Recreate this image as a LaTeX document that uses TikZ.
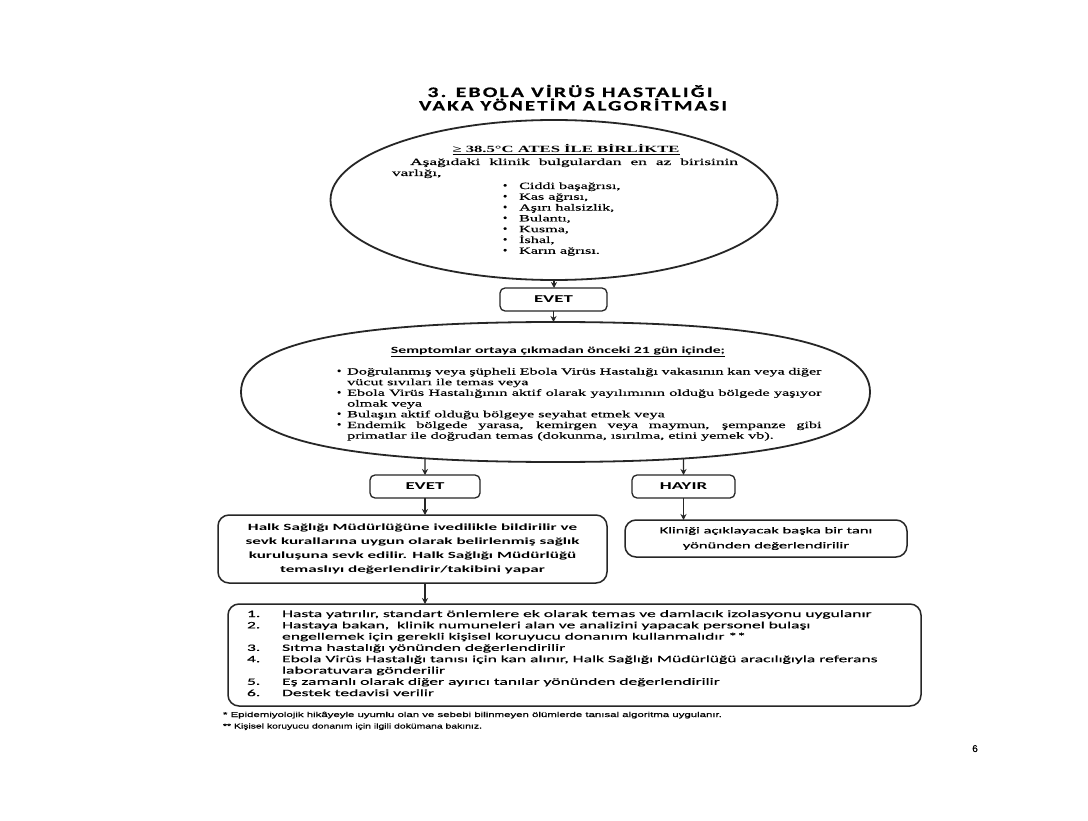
\documentclass[tikz,border=0pt]{standalone}
\usepackage{fontspec}
\usepackage{graphicx}
\setmainfont{Liberation Serif}
\newfontfamily\serf[FakeBold=0.35]{Liberation Serif}
\newfontfamily\calf[FakeBold=0.3]{Carlito}
\newfontfamily\calb{Carlito}
\newfontfamily\titlef[LetterSpace=10,FakeBold=0.4]{Carlito}
\newfontfamily\arlf[FakeBold=0.6]{Liberation Sans}
\usetikzlibrary{shapes.geometric,arrows.meta,intersections}
\newcommand{\sx}[1]{\scalebox{1.8}[1]{#1}}
\newcommand{\sxs}[1]{\scalebox{1.7}[1]{#1}}
\newcommand{\fitto}[2]{\resizebox{#1}{\height}{#2}}
\newcommand{\bdot}{\scalebox{0.75}[1.15]{\textbullet}}
\newcommand{\bul}{\makebox[6pt][l]{\bdot}}
\newcommand{\bind}{\hspace*{6pt}}
\newcommand{\numb}[1]{\makebox[19.5pt][l]{#1}}
\begin{document}
\begin{tikzpicture}[x=1pt,y=1pt,
 every node/.style={inner sep=0pt,outer sep=0pt},
 ovalline/.style={draw=black!85,line width=1.8pt},
 oval/.style={ellipse,ovalline},
 rbox/.style={draw=black!85,line width=1.3pt,rounded corners=5pt},
 bigbox/.style={draw=black!85,line width=1.5pt,rounded corners=11pt},
 arr/.style={draw=black!85,line width=1.3pt,-{Stealth[length=6pt,width=6pt]}},
 txt/.style={anchor=base west,text=black}]
\useasboundingbox (0,0) rectangle (1088,-821);
\fill[white] (0,0) rectangle (1088,-821);

% title
\node[anchor=base] (t1) at (570,-97) {\fitto{285pt}{\titlef\bfseries\fontsize{14.5}{16}\selectfont 3. EBOLA VİRÜS HASTALIĞI}};
\node[anchor=base] (t2) at (573,-110.5) {\fitto{308pt}{\titlef\bfseries\fontsize{14.5}{16}\selectfont VAKA YÖNETİM ALGORİTMASI}};

% first ellipse
\node[oval,minimum width=447pt,minimum height=160pt] (e1) at (554,-200) {};
\node[anchor=base] (h1) at (566,-153) {\fitto{227pt}{\bfseries\fontsize{9.5}{11}\selectfont\underline{≥ 38.5°C ATES İLE BİRLİKTE}}};
\node[txt] (p1) at (392,-165) {\fitto{346pt}{\parbox[t]{190pt}{\serf\fontsize{9.5}{11}\selectfont\hspace*{10pt}\makebox[180pt][s]{Aşağıdaki klinik bulgulardan en az birisinin}\\varlığı,}}};
\node[txt] (b1) at (503,-189) {\sxs{\parbox[t]{80pt}{\serf\fontsize{9.5}{10.8}\selectfont
\makebox[9.5pt][l]{\bdot}Ciddi başağrısı,\\
\makebox[9.5pt][l]{\bdot}Kas ağrısı,\\
\makebox[9.5pt][l]{\bdot}Aşırı halsizlik,\\
\makebox[9.5pt][l]{\bdot}Bulantı,\\
\makebox[9.5pt][l]{\bdot}Kusma,\\
\makebox[9.5pt][l]{\bdot}İshal,\\
\makebox[9.5pt][l]{\bdot}Karın ağrısı.}}};

% EVET 1
\node[rbox,minimum width=107pt,minimum height=23pt] (ev1) at (553.5,-299.5) {\sx{\calb\bfseries\fontsize{10.5}{11}\selectfont EVET}};
\draw[arr] (e1.south) -- (e1.south |- ev1.north);

% second (rounded) oval
\node[minimum width=629pt,minimum height=140pt] (e2) at (555.5,-392) {};
\draw[ovalline,name path=e2p] (e2.west)
  .. controls +(0,47.6) and +(-213.9,0) .. (e2.north)
  .. controls +(213.9,0) and +(0,47.6) .. (e2.east)
  .. controls +(0,-47.6) and +(213.9,0) .. (e2.south)
  .. controls +(-213.9,0) and +(0,-47.6) .. (e2.west) -- cycle;
\draw[arr] (ev1.south) -- (ev1.south |- e2.north);
\node[anchor=base] (h2) at (558,-353) {\fitto{334pt}{\calb\bfseries\fontsize{9.5}{11}\selectfont\underline{Semptomlar ortaya çıkmadan önceki 21 gün içinde;}}};
\node[txt] (b2) at (337,-374.5) {\sxs{\parbox[t]{290pt}{\serf\fontsize{9.5}{10.7}\selectfont
\bul\makebox[279pt][s]{Doğrulanmış veya şüpheli Ebola Virüs Hastalığı vakasının kan veya diğer}\\
\bind vücut sıvıları ile temas veya\\
\bul\makebox[279pt][s]{Ebola Virüs Hastalığının aktif olarak yayılımının olduğu bölgede yaşıyor}\\
\bind olmak veya\\
\bul Bulaşın aktif olduğu bölgeye seyahat etmek veya\\
\bul\makebox[279pt][s]{Endemik bölgede yarasa, kemirgen veya maymun, şempanze gibi}\\
\bind primatlar ile doğrudan temas (dokunma, ısırılma, etini yemek vb).}}};

% EVET 2 / HAYIR
\node[rbox,minimum width=110pt,minimum height=23pt] (ev2) at (425,-486.5) {\sx{\calb\bfseries\fontsize{10.5}{11}\selectfont EVET}};
\node[rbox,minimum width=103pt,minimum height=23pt] (hay) at (683.5,-486.5) {\sx{\calb\bfseries\fontsize{10.5}{11}\selectfont HAYIR}};
\path[name path=v1] (ev2.north) -- ++(0,80);
\path[name path=v2] (hay.north) -- ++(0,80);
\path[name intersections={of=e2p and v1,by=i1}];
\path[name intersections={of=e2p and v2,by=i2}];
\draw[arr] (i1) -- (ev2.north);
\draw[arr] (i2) -- (hay.north);

% result boxes
\node[bigbox,minimum width=389pt,minimum height=68pt] (halk) at (412.5,-549) {\sx{\parbox{205pt}{\centering\calb\bfseries\fontsize{9.5}{14.2}\selectfont
Halk Sağlığı Müdürlüğüne ivedilikle bildirilir ve\\
sevk kurallarına uygun olarak belirlenmiş sağlık\\
kuruluşuna sevk edilir. Halk Sağlığı Müdürlüğü\\
temaslıyı değerlendirir/takibini yapar}}};
\node[bigbox,minimum width=282pt,minimum height=37pt] (kl) at (766,-538.5) {\sx{\parbox{150pt}{\centering\calf\fontsize{9.2}{15}\selectfont
Kliniği açıklayacak başka bir tanı\\
yönünden değerlendirilir}}};
\draw[arr] (ev2.south) -- (ev2.south |- halk.north);
\draw[arr] (hay.south) -- (hay.south |- kl.north);

% list box
\node[bigbox,minimum width=693pt,minimum height=102pt] (lst) at (574.5,-655) {};
\draw[arr] (halk.south -| ev2.south) -- (ev2.south |- lst.north);
\node[txt] (l1) at (247,-617) {\sx{\parbox[t]{380pt}{\calf\fontsize{9.75}{11.3}\selectfont
\numb{1.}Hasta yatırılır, standart önlemlere ek olarak temas ve damlacık izolasyonu uygulanır\\
\numb{2.}Hastaya bakan,\ \ klinik numuneleri alan ve analizini yapacak personel bulaşı\\
\numb{}engellemek için gerekli kişisel koruyucu donanım kullanmalıdır **\\
\numb{3.}Sıtma hastalığı yönünden değerlendirilir\\
\numb{4.}Ebola Virüs Hastalığı tanısı için kan alınır, Halk Sağlığı Müdürlüğü aracılığıyla referans\\
\numb{}laboratuvara gönderilir\\
\numb{5.}Eş zamanlı olarak diğer ayırıcı tanılar yönünden değerlendirilir\\
\numb{6.}Destek tedavisi verilir}}};

% footnotes
\node[txt] (f1) at (223,-717) {\fitto{499pt}{\arlf\fontsize{7.2}{8}\selectfont * Epidemiyolojik hikâyeyle uyumlu olan ve sebebi bilinmeyen ölümlerde tanısal algoritma uygulanır.}};
\node[txt] (f2) at (223,-728.5) {\fitto{259pt}{\arlf\fontsize{7.2}{8}\selectfont ** Kişisel koruyucu donanım için ilgili dokümana bakınız.}};

% page number
\node[anchor=base] (pg) at (975,-752) {\arlf\fontsize{10}{12}\selectfont 6};
\end{tikzpicture}
\end{document}
